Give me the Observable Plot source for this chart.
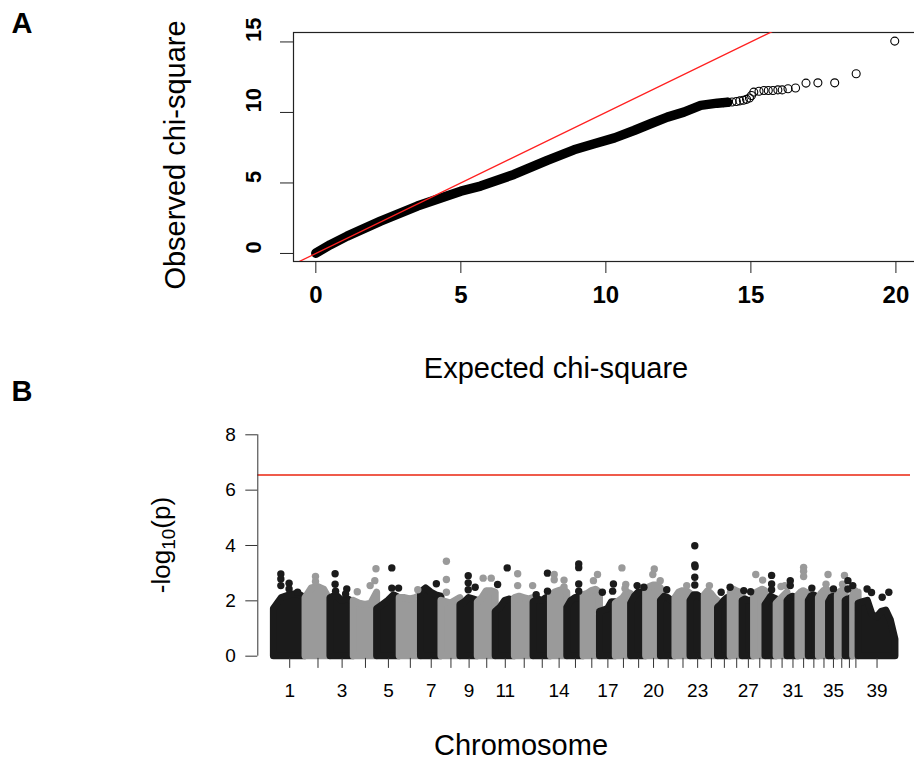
<!DOCTYPE html>
<html><head><meta charset="utf-8">
<script src="https://cdn.jsdelivr.net/npm/d3@7"></script>
<script src="https://cdn.jsdelivr.net/npm/@observablehq/plot@0.6"></script>
<style>
html,body{margin:0;padding:0;overflow:hidden;background:#fff;}
#root{position:relative;width:914px;height:760px;overflow:hidden;font-family:"Liberation Sans",Arial,sans-serif;color:#000;}
.lbl{position:absolute;white-space:nowrap;line-height:1;transform:translate(-50%,-50%);}
.rot{transform:translate(-50%,-50%) rotate(-90deg);}
</style></head><body>
<div id="root">
  <div class="lbl" style="left:22px;top:23px;font-size:29px;font-weight:bold;">A</div>
  <div class="lbl" style="left:22px;top:391px;font-size:29px;font-weight:bold;">B</div>
  <div class="lbl rot" style="left:175px;top:155px;font-size:29px;">Observed chi-square</div>
  <div class="lbl" style="left:556px;top:368px;font-size:29px;">Expected chi-square</div>
  <div class="lbl rot" style="left:163px;top:545px;font-size:26px;">-log<sub style="font-size:19px;vertical-align:-5px;">10</sub>(p)</div>
  <div class="lbl" style="left:521px;top:745px;font-size:29px;">Chromosome</div>
</div>
<script>
// ---------- Panel A: QQ plot ----------
const qqXTicks = [0, 5, 10, 15, 20];
const qqYTicks = [0, 5, 10, 15];
const qqExpected = [0, 0.5, 1.08, 2.23, 3.5, 5, 5.68, 6.83, 7.98, 8.9, 9.6, 10.3, 10.97, 11.54, 12.12, 12.69, 13.27, 13.84, 14.2];
const qqObserved = [0.02, 0.62, 1.23, 2.29, 3.36, 4.42, 4.78, 5.6, 6.6, 7.35, 7.78, 8.2, 8.72, 9.2, 9.67, 10.02, 10.5, 10.66, 10.72];
const qqTailExpected = [14.05, 14.2, 14.35, 14.5, 14.62, 14.74, 14.85, 14.95, 15.02, 15.1, 15.28, 15.45, 15.6, 15.76, 15.93, 16.08, 16.28, 16.54, 16.9, 17.31, 17.89, 18.63, 19.96];
const qqTailObserved = [10.7, 10.72, 10.74, 10.78, 10.82, 10.87, 10.93, 11.02, 11.2, 11.44, 11.5, 11.56, 11.56, 11.56, 11.6, 11.6, 11.68, 11.73, 12.08, 12.1, 12.1, 12.74, 15.06];
const qqXDomain = [-0.77, 20.71];
const qqYDomain = [-0.57, 15.67];

// ---------- Panel B: Manhattan plot ----------
const chrLengths = [122, 96, 90, 90, 87, 82, 79, 73, 67, 69, 74, 72, 67, 63, 63, 63, 61, 59, 58, 57, 56, 58, 55, 51, 49, 46, 44, 44, 43, 42, 42, 40, 39, 39, 34, 30, 29, 21, 142];
const chrColors = ["#1b1b1b", "#9a9a9a"];
const shownChrLabels = [1, 3, 5, 7, 9, 11, 14, 17, 20, 23, 27, 31, 35, 39];
const manhattanYTicks = [0, 2, 4, 6, 8];
const threshold = 6.55;
// upper envelope of the dense cloud of each chromosome (evenly spaced along it)
const bodyTops = [
  [1.7, 2.1, 2.2, 2.25, 2.1], [2.1, 2.45, 2.5, 2.4, 2.0], [2.1, 2.2, 2.0, 2.05, 1.95], [2.0, 1.9, 1.85, 1.9, 2.3],
  [1.7, 1.85, 2.0, 2.2, 2.1], [2.1, 2.1, 2.05, 2.1, 2.2], [2.3, 2.45, 2.3, 2.2, 2.15], [2.0, 1.95, 1.9, 2.0, 2.1],
  [1.85, 1.95, 2.1, 2.05, 2.0], [1.95, 2.1, 2.35, 2.35, 2.3], [1.6, 1.75, 2.0, 2.05, 1.95], [2.1, 2.15, 2.1, 2.05, 2.1],
  [1.95, 2.05, 2.0, 2.1, 2.05], [2.2, 2.3, 2.35, 2.4, 2.3], [1.75, 2.0, 2.1, 2.1, 2.0], [2.2, 2.25, 2.35, 2.4, 2.3],
  [1.6, 1.65, 1.7, 1.95, 1.95], [1.9, 2.0, 2.1, 2.3, 2.25], [1.9, 2.15, 2.3, 2.3, 2.3], [2.3, 2.5, 2.55, 2.55, 2.45],
  [2.0, 2.15, 2.1, 2.0, 1.95], [2.1, 2.3, 2.35, 2.35, 2.25], [2.0, 2.2, 2.2, 2.1, 2.05], [2.2, 2.35, 2.25, 2.1, 2.0],
  [1.75, 1.85, 2.0, 2.1, 2.1], [2.3, 2.4, 2.35, 2.3, 2.25], [2.0, 2.05, 2.0, 2.0, 2.0], [2.2, 2.3, 2.35, 2.4, 2.35],
  [1.85, 2.0, 2.15, 2.1, 2.05], [1.9, 2.0, 2.1, 2.2, 2.3], [2.0, 2.1, 2.15, 2.1, 2.1], [2.2, 2.3, 2.35, 2.3, 2.25],
  [2.0, 2.15, 2.2, 2.15, 2.1], [2.1, 2.25, 2.35, 2.4, 2.35], [1.95, 2.1, 2.15, 2.1, 2.05], [2.2, 2.3, 2.35, 2.4, 2.4],
  [2.0, 2.05, 2.05, 2.1, 2.1], [2.2, 2.3, 2.35, 2.3, 2.3], [1.9, 1.95, 2.0, 1.5, 1.4, 1.6, 1.65, 1.3, 0.6]
];
// isolated SNPs above the dense cloud
const peakChr  = [1,1,1,1,1,1, 2,2, 3,3,3,3,3, 4,4,4,4, 5,5,5, 6, 7, 8,8,8, 9,9,9,9, 10,10, 11,11, 12,12,12, 13,13,13, 14,14,14,14, 15,15,15,15, 16,16, 17,17,17, 18,18,18, 19,19, 20,20,20, 21, 22, 23,23,23,23,23, 24, 25,25, 27,27, 28,28, 29,29,29, 30,30, 31,31, 32,32,32, 33, 34,34, 35, 36,36, 37,37,37, 39,39,39,39];
const peakFrac = [0.22,0.22,0.22,0.48,0.48,0.75, 0.4,0.4, 0.2,0.2,0.22,0.7,0.65, 0.15,0.7,0.9,0.95, 0.65,0.65,0.95, 0.85, 0.75, 0.26,0.26,0.26, 0.45,0.45,0.45,0.85, 0.3,0.75, 0.1,0.6, 0.15,0.15,0.95, 0.15,0.8,0.8, 0.2,0.2,0.8,0.8, 0.7,0.7,0.7,0.7, 0.85,0.6, 0.15,0.85,0.8, 0.4,0.65,0.6, 0.4,0.85, 0.55,0.45,0.95, 0.4, 0.75, 0.3,0.3,0.32,0.3,0.3, 0.35, 0.25,0.95, 0.1,0.7, 0.15,0.75, 0.55,0.55,0.55, 0.4,0.75, 0.25,0.25, 0.5,0.5,0.5, 0.3, 0.9,0.7, 0.5, 0.85,0.6, 0.3,0.95,0.3, 0.23,0.64,0.82,0.35];
const peakVal  = [2.97,2.79,2.55,2.64,2.43,2.31, 2.88,2.7, 2.98,2.6,2.35,2.43,2.25, 2.33,2.55,2.73,3.16, 3.19,2.46,2.46, 2.4, 2.62, 3.43,2.77,2.31, 2.91,2.65,2.4,2.49, 2.82,2.82, 2.59,3.19, 2.98,2.55,2.55, 2.22,3.0,2.35, 2.95,2.76,2.75,2.5, 3.33,3.2,2.61,2.35, 2.95,2.73, 2.31,2.61,2.35, 3.19,2.59,2.45, 2.55,2.49, 3.15,2.95,2.73, 2.4, 2.55, 3.99,3.3,3.23,2.85,2.57, 2.55, 2.31,2.49, 2.37,2.33, 2.95,2.75, 2.92,2.61,2.4, 2.52,2.55, 2.73,2.55, 3.21,3.07,2.88, 2.46, 2.95,2.6, 2.43, 2.92,2.6, 2.73,2.55,2.43, 2.43,2.13,2.31,2.3];
const xPadMb = [62, 58];

// ---------- build tables ----------
const qqDense = qqExpected.map((e, i) => ({e, o: qqObserved[i]}));
const qqTail = qqTailExpected.map((e, i) => ({e, o: qqTailObserved[i]}));
const diag = qqXDomain.map(v => ({e: v, o: v}));

const starts = [];
let acc = 0;
chrLengths.forEach(l => { starts.push(acc); acc += l; });
const total = acc;
const colorOf = i => chrColors[i % 2];
const body = [];
bodyTops.forEach((tops, i) => tops.forEach((v, j) => body.push({
  chr: i + 1, pos: starts[i] + chrLengths[i] * j / (tops.length - 1), val: v, color: colorOf(i)
})));
const peaks = peakChr.map((c, k) => ({
  chr: c, pos: starts[c - 1] + chrLengths[c - 1] * peakFrac[k], val: peakVal[k], color: colorOf(c - 1)
}));
const centers = chrLengths.map((l, i) => starts[i] + l / 2);
const labelData = shownChrLabels.map(c => ({pos: centers[c - 1], label: String(c)}));

const baseStyle = {fontFamily: '"Liberation Sans", Arial, sans-serif', color: "#000", background: "transparent", maxWidth: "none", overflow: "visible"};

const plotA = Plot.plot({
  width: 916, height: 400,
  marginLeft: 293, marginRight: 0, marginTop: 32, marginBottom: 139,
  x: {domain: qqXDomain, label: null},
  y: {domain: qqYDomain, label: null},
  style: {...baseStyle, fontSize: "22px"},
  marks: [
    Plot.frame({stroke: "#222", strokeWidth: 1.2}),
    Plot.line(qqDense, {x: "e", y: "o", stroke: "#000", strokeWidth: 9.5, strokeLinecap: "round", strokeLinejoin: "round"}),
    Plot.dot(qqTail, {x: "e", y: "o", r: 4, stroke: "#000", strokeWidth: 1.1, fill: "none"}),
    Plot.line(diag, {x: "e", y: "o", stroke: "#ff2020", strokeWidth: 1.3, clip: true}),
    Plot.axisX(qqXTicks, {tickSize: 12, tickFormat: () => "", stroke: "#222"}),
    Plot.axisY(qqYTicks, {tickSize: 13, tickFormat: () => "", stroke: "#222"}),
    Plot.text(qqXTicks, {x: d => d, text: d => String(d), frameAnchor: "bottom", dy: 41, fontWeight: "bold", fontSize: 24}),
    Plot.text(qqYTicks, {y: d => d, text: d => String(d), frameAnchor: "left", dx: -40, rotate: -90, fontWeight: "bold", fontSize: 22})
  ]
});

const plotB = Plot.plot({
  width: 914, height: 360,
  marginLeft: 257.3, marginRight: 4, marginTop: 34.3, marginBottom: 102.1,
  x: {domain: [-xPadMb[0], total + xPadMb[1]], label: null},
  y: {domain: [-0.08, 8], label: null},
  color: {type: "identity"},
  style: {...baseStyle, fontSize: "19px"},
  marks: [
    Plot.areaY(body, {x: "pos", y1: 0, y2: "val", z: "chr", fill: "color", stroke: "color", strokeWidth: 7, strokeLinejoin: "round"}),
    Plot.dot(peaks, {x: "pos", y: "val", r: 3.7, fill: "color"}),
    Plot.ruleY([threshold], {stroke: "#ef5b4b", strokeWidth: 2}),
    Plot.ruleX([-xPadMb[0]], {y1: manhattanYTicks[0], y2: manhattanYTicks[manhattanYTicks.length - 1], stroke: "#333"}),
    Plot.axisY(manhattanYTicks, {tickSize: 12, tickPadding: 10, fontSize: 19, stroke: "#333"}),
    Plot.axisX(centers, {tickSize: 10, tickFormat: () => "", stroke: "#333"}),
    Plot.text(labelData, {x: "pos", text: "label", frameAnchor: "bottom", dy: 39, fontSize: 19})
  ]
});

const root = document.getElementById("root");
plotA.style.position = "absolute"; plotA.style.left = "0px"; plotA.style.top = "0px";
plotB.style.position = "absolute"; plotB.style.left = "0px"; plotB.style.top = "400px";
root.insertBefore(plotB, root.firstChild);
root.insertBefore(plotA, root.firstChild);
</script>
</body></html>
